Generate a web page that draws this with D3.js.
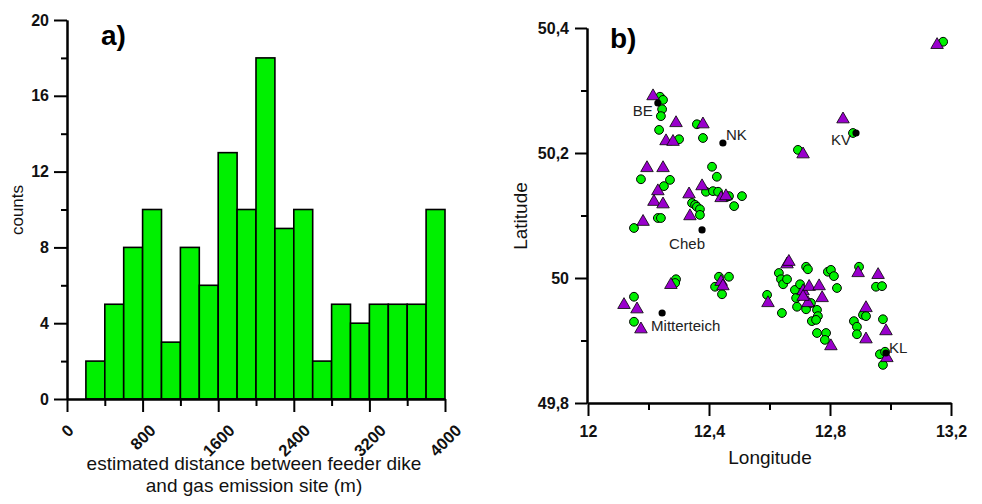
<!DOCTYPE html>
<html lang="en">
<head>
<meta charset="UTF-8">
<title>Distance histogram and emission map</title>
<script src="https://d3js.org/d3.v7.min.js"></script>
<style>
    body{margin:0;background:#fff;}
    svg{display:block;font-family:"Liberation Sans",Arial,sans-serif;}
    .axis path,.axis line{stroke:#000;stroke-width:2px;}
    .axis text{font-weight:bold;fill:#111;font-size:16px;}
    .lbl{font-size:17px;fill:#111;}
    .city{font-size:15px;fill:#222;}
</style>
</head>
<body>
<svg id="canvas" width="982" height="504"></svg>
<script>
    // ---- panel a) histogram ----
    let binStart = [200,400,600,800,1000,1200,1400,1600,1800,2000,2200,2400,2600,2800,3000,3200,3400,3600,3800];
    let binCounts = [2,5,8,10,3,8,6,13,10,18,9,10,2,5,4,5,5,5,10];
    let binWidth = 200;
    let histXTicks = [0,800,1600,2400,3200,4000];
    let histXMinor = [400,1200,2000,2800,3600];
    let histYTicks = [0,4,8,12,16,20];
    let histYMinor = [2,6,10,14,18];

    // ---- panel b) map ----
    // purple triangles
    let triLon = [12.215,12.291,12.380,12.258,12.281,12.195,12.248,12.231,12.218,12.248,12.182,12.334,12.377,12.337,12.440,12.456,
                  12.711,13.154,12.843,12.119,12.162,12.175,12.274,12.440,12.446,12.658,12.664,12.595,12.711,12.731,12.764,12.774,
                  12.727,12.711,12.803,12.893,12.959,12.919,12.985,12.919,12.988];
    let triLat = [50.291,50.248,50.246,50.219,50.218,50.176,50.176,50.139,50.122,50.118,50.090,50.134,50.147,50.099,50.128,50.131,
                  50.198,50.373,50.254,49.957,49.950,49.918,49.989,49.994,49.987,50.022,50.026,49.960,49.979,49.986,49.987,49.968,
                  49.960,49.970,49.891,50.008,50.005,49.952,49.915,49.902,49.872];
    // green circles
    let cirLon = [12.238,12.248,12.245,12.241,12.235,12.301,12.360,12.380,12.175,12.251,12.271,12.231,12.241,12.152,12.410,12.426,
                  12.390,12.413,12.430,12.460,12.466,12.483,12.509,12.344,12.354,12.360,12.370,12.370,12.694,13.174,12.876,12.152,
                  12.152,12.291,12.288,12.433,12.466,12.420,12.443,12.592,12.631,12.638,12.645,12.658,12.721,12.727,12.793,12.803,
                  12.813,12.823,12.641,12.684,12.701,12.688,12.691,12.721,12.737,12.757,12.760,12.740,12.754,12.757,12.787,12.783,
                  12.896,12.952,12.972,12.879,12.889,12.889,12.909,12.919,12.975,12.965,12.975,12.982];
    let cirLat = [50.290,50.285,50.270,50.259,50.237,50.222,50.246,50.224,50.158,50.147,50.157,50.096,50.096,50.080,50.178,50.162,
                  50.138,50.139,50.138,50.130,50.131,50.115,50.131,50.120,50.117,50.114,50.110,50.101,50.205,50.378,50.232,49.970,
                  49.930,49.998,49.992,50.002,50.002,49.986,49.974,49.973,50.008,49.998,49.990,49.998,50.018,50.014,50.010,50.013,
                  50.003,49.984,49.944,49.981,49.990,49.968,49.954,49.950,49.960,49.949,49.939,49.931,49.933,49.912,49.912,49.901,
                  50.018,49.986,49.987,49.931,49.922,49.910,49.941,49.939,49.934,49.878,49.861,49.882];
    // towns
    let cityNames = ["BE","NK","KV","Cheb","Mitterteich","KL"];
    let cityLon = [12.231,12.446,12.886,12.377,12.245,12.985];
    let cityLat = [50.280,50.216,50.232,50.077,49.944,49.880];
    let mapXTicks = [12,12.4,12.8,13.2];
    let mapXMinor = [12.2,12.6,13.0];
    let mapYTicks = [49.8,50,50.2,50.4];
    let mapYMinor = [49.9,50.1,50.3];

    let svg = d3.select('svg');
    let comma = d => String(+d.toFixed(1)).replace(".", ",");

    // ================= a) =================
    let hx = d3.scaleLinear().domain([0,4000]).range([67,445]);
    let hy = d3.scaleLinear().domain([0,20]).range([399,20]);
    let gA = svg.append('g');

    gA.selectAll('rect.bar')
        .data(binStart)
        .enter()
        .append('rect')
        .attr("class","bar")
        .attr("x",d => hx(d))
        .attr("y",(d,i) => hy(binCounts[i]))
        .attr("width",hx(binWidth)-hx(0))
        .attr("height",(d,i) => hy(0)-hy(binCounts[i]))
        .attr("fill","#00f000")
        .attr("stroke","#000")
        .attr("stroke-width",1.6);

    // y axis
    gA.append('g').attr("class","axis").attr("transform","translate(67,0)")
        .call(d3.axisLeft(hy).tickValues(histYMinor).tickSize(6).tickFormat("").tickSizeOuter(0));
    gA.append('g').attr("class","axis").attr("transform","translate(67,0)")
        .call(d3.axisLeft(hy).tickValues(histYTicks).tickSize(13).tickPadding(5).tickFormat(d3.format("d")).tickSizeOuter(0));

    // x axis
    gA.append('g').attr("class","axis").attr("transform","translate(0,399)")
        .call(d3.axisBottom(hx).tickValues(histXMinor).tickSize(7).tickFormat("").tickSizeOuter(0));
    let hxAxis = gA.append('g').attr("class","axis").attr("transform","translate(0,399)")
        .call(d3.axisBottom(hx).tickValues(histXTicks).tickSize(13).tickFormat(d3.format("d")).tickSizeOuter(0));
    hxAxis.selectAll('text')
        .style("font-size","16.5px")
        .attr("text-anchor","middle")
        .attr("y",0).attr("dy",0)
        .each(function(){
            let w = this.getComputedTextLength();
            d3.select(this).attr("transform",`translate(4,${32.5 + 0.354*w}) rotate(-45)`);
        });

    gA.append('text').attr("class","lbl").attr("text-anchor","middle")
        .attr("transform","translate(23,210) rotate(-90)").text("counts");
    gA.append('text').attr("class","lbl").style("font-size","19px").attr("text-anchor","middle")
        .attr("x",254).attr("y",470).text("estimated distance between feeder dike");
    gA.append('text').attr("class","lbl").style("font-size","19px").attr("text-anchor","middle")
        .attr("x",254).attr("y",492).text("and gas emission site (m)");
    gA.append('text').attr("x",101).attr("y",45)
        .style("font-size","28px").style("font-weight","bold").text("a)");

    // ================= b) =================
    let mx = d3.scaleLinear().domain([12,13.2]).range([588,951]);
    let my = d3.scaleLinear().domain([49.8,50.4]).range([403,28]);
    let gB = svg.append('g');

    gB.append('g').attr("class","axis").attr("transform","translate(587,0)")
        .call(d3.axisLeft(my).tickValues(mapYMinor).tickSize(6).tickFormat("").tickSizeOuter(0));
    gB.append('g').attr("class","axis").attr("transform","translate(587,0)")
        .call(d3.axisLeft(my).tickValues(mapYTicks).tickSize(12).tickPadding(6).tickFormat(comma).tickSizeOuter(0));
    gB.append('g').attr("class","axis").attr("transform","translate(0,403)")
        .call(d3.axisBottom(mx).tickValues(mapXMinor).tickSize(7).tickFormat("").tickSizeOuter(0));
    gB.append('g').attr("class","axis").attr("transform","translate(0,403)")
        .call(d3.axisBottom(mx).tickValues(mapXTicks).tickSize(13).tickPadding(10).tickFormat(comma).tickSizeOuter(0));

    gB.selectAll('circle.gas')
        .data(cirLon)
        .enter()
        .append('circle')
        .attr("class","gas")
        .attr("cx",d => mx(d))
        .attr("cy",(d,i) => my(cirLat[i]))
        .attr("r",4.4)
        .attr("fill","#00f000")
        .attr("stroke","#000")
        .attr("stroke-width",1);

    let tri = d3.symbol().type(d3.symbolTriangle).size(68);
    gB.selectAll('path.dike')
        .data(triLon)
        .enter()
        .append('path')
        .attr("class","dike")
        .attr("d",tri)
        .attr("transform",(d,i) => `translate(${mx(d)},${my(triLat[i])})`)
        .attr("fill","#9900cc")
        .attr("stroke","#000")
        .attr("stroke-width",0.8);

    // town label placement (px offsets from the dot)
    let labelPos = {
        "BE":[-5,13,"end"], "NK":[3,-3,"start"], "KV":[-5,12,"end"],
        "Cheb":[-15,19,"middle"], "Mitterteich":[-11,18,"start"], "KL":[3,0,"start"]
    };
    cityNames.forEach(function(name,i){
        let cx = mx(cityLon[i]), cy = my(cityLat[i]);
        gB.append('circle').attr("cx",cx).attr("cy",cy).attr("r",3.6).attr("fill","#000");
        let p = labelPos[name];
        gB.append('text').attr("class","city")
            .attr("x",cx+p[0]).attr("y",cy+p[1]).attr("text-anchor",p[2]).text(name);
    });

    gB.append('text').attr("class","lbl").style("font-size","19px").attr("text-anchor","middle")
        .attr("transform","translate(527,216) rotate(-90)").text("Latitude");
    gB.append('text').attr("class","lbl").style("font-size","19px").attr("text-anchor","middle")
        .attr("x",770).attr("y",464).text("Longitude");
    gB.append('text').attr("x",610).attr("y",48)
        .style("font-size","28px").style("font-weight","bold").text("b)");
</script>
</body>
</html>
